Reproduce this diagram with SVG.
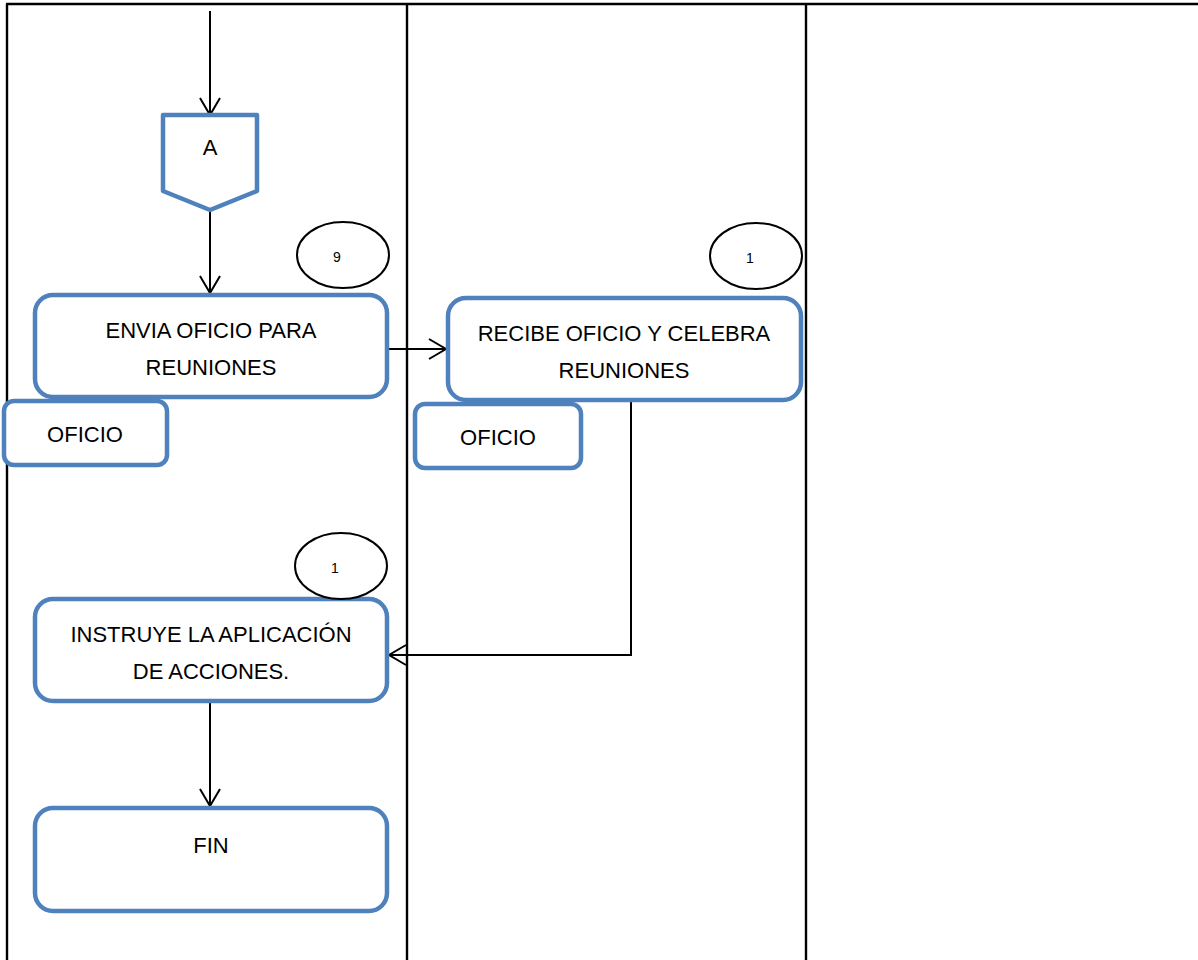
<svg xmlns="http://www.w3.org/2000/svg" width="1198" height="960" viewBox="0 0 1198 960">
  <style>
    .grid { stroke: #000; stroke-width: 2.4; fill: none; }
    .shape { fill: #fff; stroke: #4F81BD; stroke-width: 4.5; stroke-linejoin: round; }
    .badge { fill: #fff; stroke: #000; stroke-width: 2; }
    .wire { fill: none; stroke: #000; stroke-width: 2; }
    .lbl { font-family: "Liberation Sans", Arial, sans-serif; font-size: 22px; fill: #000; text-anchor: middle; dominant-baseline: central; }
    .num { font-family: "Liberation Sans", Arial, sans-serif; font-size: 14px; fill: #000; text-anchor: middle; dominant-baseline: central; }
  </style>
  <defs>
    <marker id="open-arrow" viewBox="0 0 20 22" refX="18" refY="11" markerWidth="20" markerHeight="22" markerUnits="userSpaceOnUse" orient="auto">
      <path d="M1,1 L18,11 L1,21" fill="none" stroke="#000" stroke-width="2"/>
    </marker>
  </defs>

  <rect width="1198" height="960" fill="#fff"/>

  <!-- swimlane grid -->
  <g id="lanes" class="grid">
    <line x1="6" y1="4" x2="1198" y2="4"/>
    <line x1="7" y1="4" x2="7" y2="960"/>
    <line x1="407" y1="4" x2="407" y2="960"/>
    <line x1="806" y1="4" x2="806" y2="960"/>
  </g>

  <!-- connectors -->
  <g id="connectors" class="wire">
    <line x1="210" y1="11" x2="210" y2="115" marker-end="url(#open-arrow)"/>
    <line x1="210" y1="210" x2="210" y2="293" marker-end="url(#open-arrow)"/>
    <line x1="387" y1="349" x2="446" y2="349" marker-end="url(#open-arrow)"/>
    <polyline points="631,400 631,655 389,655" marker-end="url(#open-arrow)"/>
    <line x1="210" y1="701" x2="210" y2="806" marker-end="url(#open-arrow)"/>
  </g>

  <!-- off-page connector A -->
  <g id="node-a">
    <path class="shape" d="M163,115 L257,115 L257,191 L210,210 L163,191 Z"/>
    <text class="lbl" x="210" y="147">A</text>
  </g>

  <!-- step 9: send memo -->
  <g id="node-envia">
    <rect class="shape" x="35" y="295" width="352" height="102" rx="18"/>
    <text class="lbl" x="211" y="330">ENVIA OFICIO PARA</text>
    <text class="lbl" x="211" y="367">REUNIONES</text>
  </g>
  <g id="badge-9">
    <ellipse class="badge" cx="343" cy="255" rx="46" ry="33"/>
    <text class="num" x="337" y="257">9</text>
  </g>
  <g id="doc-oficio-1">
    <rect class="shape" x="4" y="401" width="163" height="64" rx="10"/>
    <text class="lbl" x="85" y="434">OFICIO</text>
  </g>

  <!-- receive memo -->
  <g id="node-recibe">
    <rect class="shape" x="448" y="298" width="353" height="102" rx="18"/>
    <text class="lbl" x="624" y="333">RECIBE OFICIO Y CELEBRA</text>
    <text class="lbl" x="624" y="370">REUNIONES</text>
  </g>
  <g id="badge-1a">
    <ellipse class="badge" cx="756" cy="256" rx="46" ry="33"/>
    <text class="num" x="750" y="258">1</text>
  </g>
  <g id="doc-oficio-2">
    <rect class="shape" x="415" y="404" width="166" height="64" rx="10"/>
    <text class="lbl" x="498" y="437">OFICIO</text>
  </g>

  <!-- instruct actions -->
  <g id="node-instruye">
    <rect class="shape" x="35" y="599" width="352" height="102" rx="18"/>
    <text class="lbl" x="211" y="634">INSTRUYE LA APLICACIÓN</text>
    <text class="lbl" x="211" y="671">DE ACCIONES.</text>
  </g>
  <g id="badge-1b">
    <ellipse class="badge" cx="341" cy="566" rx="46" ry="33"/>
    <text class="num" x="335" y="568">1</text>
  </g>

  <!-- end -->
  <g id="node-fin">
    <rect class="shape" x="35" y="808" width="352" height="103" rx="18"/>
    <text class="lbl" x="211" y="845">FIN</text>
  </g>
</svg>
